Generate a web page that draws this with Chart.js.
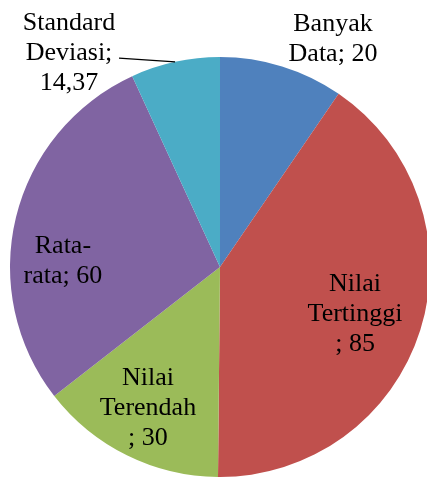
<!DOCTYPE html>
<html>
<head>
<meta charset="utf-8">
<script src="https://cdn.jsdelivr.net/npm/chart.js@4"></script>
<style>
  html, body { margin: 0; padding: 0; background: #fff; overflow: hidden; }
  #wrap { width: 440px; height: 477px; }
  .fontwarm { position: absolute; left: -999px; top: 0; font: 26px "Liberation Serif", "Times New Roman", serif; }
</style>
</head>
<body>
<span class="fontwarm">Standard Deviasi</span>
<div id="wrap"><canvas id="pie" width="440" height="477"></canvas></div>
<script>
const categories = ['Banyak Data', 'Nilai Tertinggi', 'Nilai Terendah', 'Rata-rata', 'Standard Deviasi'];
const values = [20, 85, 30, 60, 14.37];
// how each data label is broken into lines (as in the original)
const labelLines = [
  ['Banyak', 'Data; 20'],
  ['Nilai', 'Tertinggi', '; 85'],
  ['Nilai', 'Terendah', '; 30'],
  ['Rata-', 'rata; 60'],
  ['Standard', 'Deviasi;', '14,37'],
];
const colors = ['#4F81BD', '#C0504D', '#9BBB59', '#8064A2', '#4BACC6'];

// label anchors relative to pie center, in units of radius (x center, first baseline)
const labelSpots = [
  [0.538, -1.124],
  [0.643, 0.114],
  [-0.343, 0.562],
  [-0.748, -0.067],
  [-0.719, -1.129],
];
// leader line start for the outside label (index 4)
const leaderStart = { 4: [-0.481, -0.995] };

const labelFont = '26px "Liberation Serif", "Times New Roman", serif';

const dataLabels = {
  id: 'dataLabels',
  afterDatasetsDraw(chart) {
    const ctx = chart.ctx;
    const arcs = chart.getDatasetMeta(0).data;
    ctx.save();
    ctx.fillStyle = '#000';
    ctx.font = labelFont;
    ctx.textAlign = 'center';
    ctx.textBaseline = 'alphabetic';
    arcs.forEach((arc, i) => {
      const r = arc.outerRadius;
      const [fx, fy] = labelSpots[i];
      const x = arc.x + fx * r;
      let y = arc.y + fy * r;
      labelLines[i].forEach((line) => {
        ctx.fillText(line, x, y);
        y += 30;
      });
      if (leaderStart[i]) {
        const mid = (arc.startAngle + arc.endAngle) / 2;
        const ex = arc.x + Math.cos(mid) * r;
        const ey = arc.y + Math.sin(mid) * r;
        ctx.beginPath();
        ctx.strokeStyle = '#000';
        ctx.lineWidth = 1.3;
        ctx.moveTo(arc.x + leaderStart[i][0] * r, arc.y + leaderStart[i][1] * r);
        ctx.lineTo(ex, ey);
        ctx.stroke();
      }
    });
    ctx.restore();
  },
};

function makeChart() {
  new Chart(document.getElementById('pie'), {
    type: 'pie',
    data: {
      labels: categories,
      datasets: [
        {
          data: values,
          backgroundColor: colors,
          borderWidth: 0,
        },
      ],
    },
    options: {
      responsive: false,
      animation: false,
      layout: { padding: { left: 10, right: 10, top: 57, bottom: 0 } },
      plugins: {
        legend: { display: false },
        tooltip: { enabled: false },
      },
    },
    plugins: [dataLabels],
  });
}

document.fonts.load(labelFont).then(makeChart, makeChart);
</script>
</body>
</html>
